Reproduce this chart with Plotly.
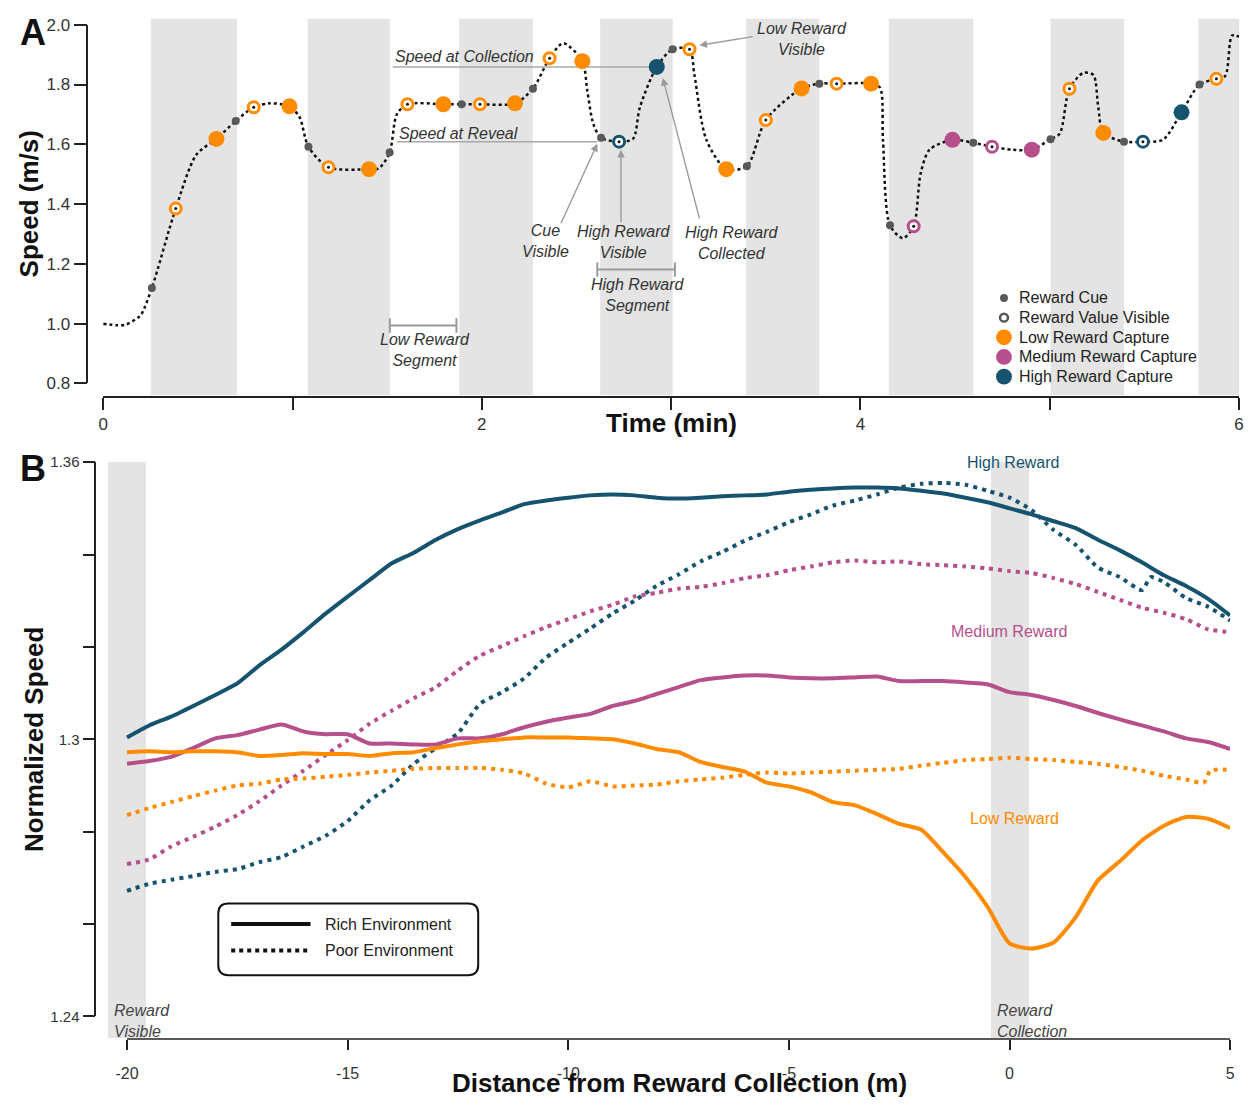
import plotly.graph_objects as go

W, H = 1255, 1111
def px(x): return x / W
def py(y): return 1 - y / H

FONT = "Liberation Sans, Arial, Helvetica, sans-serif"
ORANGE = "#FF8C00"
PURPLE = "#B5508C"
BLUE = "#16536F"
CUE_GRAY = "#595959"
BAND = "#e4e4e4"
TXT = "#222222"

# ---------------- Panel A data ----------------
trace_t = [0.00, 0.07, 0.12, 0.19, 0.205, 0.257, 0.383, 0.493, 0.598, 0.70, 0.795, 0.88, 0.984, 1.037,
           1.084, 1.19, 1.404, 1.457, 1.513, 1.551, 1.607, 1.797, 1.893, 1.99, 2.175, 2.27, 2.358, 2.43,
           2.531, 2.557, 2.589, 2.63, 2.725, 2.798, 2.835, 2.924, 3.008, 3.097, 3.123, 3.186, 3.291,
           3.40, 3.50, 3.689, 3.783, 3.874, 4.056, 4.103, 4.119, 4.156, 4.224, 4.281, 4.318, 4.365,
           4.486, 4.596, 4.695, 4.80, 4.905, 5.004, 5.052, 5.104, 5.177, 5.23, 5.256, 5.283, 5.392,
           5.492, 5.597, 5.696, 5.791, 5.88, 5.927, 5.963, 6.0]
trace_speed = [1.000, 0.995, 0.997, 1.023, 1.035, 1.119, 1.385, 1.566, 1.618, 1.678, 1.724, 1.737, 1.727, 1.691,
               1.592, 1.523, 1.517, 1.520, 1.573, 1.700, 1.734, 1.734, 1.734, 1.734, 1.737, 1.786, 1.888, 1.938,
               1.878, 1.780, 1.668, 1.622, 1.609, 1.618, 1.724, 1.859, 1.918, 1.918, 1.832, 1.615, 1.517,
               1.527, 1.681, 1.787, 1.803, 1.803, 1.803, 1.790, 1.615, 1.329, 1.286, 1.326, 1.503, 1.582,
               1.615, 1.605, 1.592, 1.582, 1.582, 1.617, 1.635, 1.786, 1.839, 1.832, 1.724, 1.638, 1.609,
               1.609, 1.615, 1.707, 1.800, 1.819, 1.829, 1.964, 1.960]

cue_t = [0.257, 0.70, 1.084, 1.513, 1.893, 2.27, 2.63, 3.008, 3.40, 3.783, 4.156, 4.596, 5.004, 5.392, 5.791]
cue_speed = [1.119, 1.678, 1.592, 1.573, 1.734, 1.786, 1.622, 1.918, 1.527, 1.803, 1.329, 1.605, 1.617, 1.609, 1.800]

vis_low_t = [0.383, 0.795, 1.19, 1.607, 1.99, 2.358, 3.097, 3.50, 3.874, 5.104, 5.88]
vis_low_speed = [1.385, 1.724, 1.523, 1.734, 1.734, 1.888, 1.918, 1.681, 1.803, 1.786, 1.819]
vis_med_t = [4.281, 4.695]
vis_med_speed = [1.326, 1.592]
vis_high_t = [2.725, 5.492]
vis_high_speed = [1.609, 1.609]

cap_low_t = [0.598, 0.984, 1.404, 1.797, 2.175, 2.531, 3.291, 3.689, 4.056, 5.283]
cap_low_speed = [1.618, 1.727, 1.517, 1.734, 1.737, 1.878, 1.517, 1.787, 1.803, 1.638]
cap_med_t = [4.486, 4.905]
cap_med_speed = [1.615, 1.582]
cap_high_t = [2.924, 5.696]
cap_high_speed = [1.859, 1.707]

bands_a_start = [0.252, 1.080, 1.881, 2.625, 3.396, 4.150, 5.004, 5.785]
bands_a_end = [0.707, 1.514, 2.269, 3.008, 3.783, 4.596, 5.392, 6.005]

time_ticks = [0, 1, 2, 3, 4, 5, 6]
time_ticktext = ["0", "", "2", "", "4", "", "6"]
speed_ticks = [0.8, 1.0, 1.2, 1.4, 1.6, 1.8, 2.0]
speed_ticktext = ["0.8", "1.0", "1.2", "1.4", "1.6", "1.8", "2.0"]

legend_a_labels = ["Reward Cue", "Reward Value Visible", "Low Reward Capture",
                   "Medium Reward Capture", "High Reward Capture"]

# ---------------- Panel B data ----------------
dist = [-20 + 0.5 * i for i in range(51)]

rich_high = [1.3004, 1.3030, 1.3049, 1.3072, 1.3096, 1.3121, 1.3160, 1.3194, 1.3232, 1.3272, 1.3309,
             1.3345, 1.3381, 1.3404, 1.3432, 1.3455, 1.3474, 1.3491, 1.3509, 1.3517, 1.3523,
             1.3528, 1.3530, 1.3528, 1.3523, 1.3521, 1.3523, 1.3526, 1.3528, 1.3530, 1.3536,
             1.3540, 1.3543, 1.3545, 1.3545, 1.3543, 1.3538, 1.3532, 1.3523, 1.3513, 1.3500,
             1.3487, 1.3472, 1.3457, 1.3432, 1.3409, 1.3383, 1.3355, 1.3332, 1.3304, 1.3268]

poor_high_x = dist[:47] + [3.2, 3.5, 4.0, 4.5, 5.0]
poor_high = [1.2672, 1.2687, 1.2696, 1.2704, 1.2713, 1.2719, 1.2734, 1.2745, 1.2768, 1.2791, 1.2823,
             1.2868, 1.2900, 1.2947, 1.2981, 1.3013, 1.3077, 1.3102, 1.3132, 1.3177, 1.3209,
             1.3240, 1.3272, 1.3300, 1.3332, 1.3357, 1.3385, 1.3406, 1.3430, 1.3449, 1.3470,
             1.3487, 1.3506, 1.3517, 1.3530, 1.3545, 1.3553, 1.3555, 1.3551, 1.3538, 1.3523,
             1.3496, 1.3453, 1.3421, 1.3372, 1.3351, 1.3323, 1.3351, 1.3340, 1.3306, 1.3287, 1.3257]

rich_med = [1.2947, 1.2953, 1.2962, 1.2981, 1.3002, 1.3009, 1.3021, 1.3032, 1.3017, 1.3011, 1.3011,
            1.2991, 1.2991, 1.2989, 1.2989, 1.3002, 1.3002, 1.3011, 1.3026, 1.3038, 1.3047,
            1.3055, 1.3072, 1.3083, 1.3098, 1.3113, 1.3128, 1.3134, 1.3138, 1.3138, 1.3134,
            1.3132, 1.3132, 1.3134, 1.3136, 1.3126, 1.3126, 1.3126, 1.3123, 1.3119, 1.3102,
            1.3096, 1.3085, 1.3072, 1.3057, 1.3043, 1.3030, 1.3017, 1.3002, 1.2994, 1.2979]

poor_med = [1.2730, 1.2740, 1.2768, 1.2789, 1.2811, 1.2836, 1.2866, 1.2900, 1.2932, 1.2966, 1.2998,
            1.3034, 1.3062, 1.3089, 1.3113, 1.3149, 1.3181, 1.3202, 1.3223, 1.3243, 1.3260,
            1.3277, 1.3291, 1.3309, 1.3317, 1.3326, 1.3330, 1.3338, 1.3349, 1.3355, 1.3366,
            1.3374, 1.3383, 1.3387, 1.3383, 1.3385, 1.3379, 1.3377, 1.3374, 1.3370, 1.3364,
            1.3360, 1.3349, 1.3336, 1.3319, 1.3302, 1.3285, 1.3274, 1.3260, 1.3238, 1.3232]

rich_low = [1.2972, 1.2974, 1.2972, 1.2974, 1.2974, 1.2972, 1.2964, 1.2966, 1.2970, 1.2968, 1.2968,
            1.2964, 1.2970, 1.2972, 1.2981, 1.2989, 1.2996, 1.3000, 1.3004, 1.3004, 1.3004,
            1.3002, 1.3000, 1.2991, 1.2979, 1.2972, 1.2951, 1.2940, 1.2930, 1.2906, 1.2898,
            1.2885, 1.2864, 1.2857, 1.2838, 1.2817, 1.2804, 1.2755, 1.2702, 1.2638, 1.2558,
            1.2547, 1.2560, 1.2615, 1.2694, 1.2736, 1.2781, 1.2813, 1.2832, 1.2828, 1.2808]

poor_low_x = dist[:49] + [4.4, 4.55, 5.0]
poor_low = [1.2836, 1.2851, 1.2864, 1.2877, 1.2889, 1.2900, 1.2904, 1.2913, 1.2915, 1.2919, 1.2923,
            1.2928, 1.2932, 1.2936, 1.2938, 1.2938, 1.2938, 1.2934, 1.2926, 1.2904, 1.2896,
            1.2909, 1.2898, 1.2900, 1.2902, 1.2909, 1.2913, 1.2917, 1.2923, 1.2928, 1.2926,
            1.2928, 1.2930, 1.2932, 1.2934, 1.2936, 1.2943, 1.2949, 1.2955, 1.2957, 1.2960,
            1.2957, 1.2955, 1.2951, 1.2947, 1.2940, 1.2932, 1.2921, 1.2913, 1.2906, 1.2932, 1.2934]

bands_b_start = [-20.43, -0.42]
bands_b_end = [-19.57, 0.44]

dist_ticks = [-20, -15, -10, -5, 0, 5]
dist_ticktext = ["-20", "-15", "-10", "-5", "0", "5"]
norm_ticks = [1.24, 1.26, 1.28, 1.30, 1.32, 1.34, 1.36]
norm_ticktext = ["1.24", "", "", "1.3", "", "", "1.36"]

fig = go.Figure()

# ---------------- Panel A traces ----------------
fig.add_trace(go.Scatter(x=trace_t, y=trace_speed, mode="lines", showlegend=False, hoverinfo="skip",
                         line=dict(color="#111111", width=2.5, dash="dot", shape="spline", smoothing=0.8),
                         xaxis="x", yaxis="y"))
fig.add_trace(go.Scatter(x=cue_t, y=cue_speed, mode="markers", showlegend=False,
                         marker=dict(size=8, color=CUE_GRAY), xaxis="x", yaxis="y"))
for tt, ss, col in [(vis_low_t, vis_low_speed, ORANGE), (vis_med_t, vis_med_speed, PURPLE),
                    (vis_high_t, vis_high_speed, BLUE)]:
    fig.add_trace(go.Scatter(x=tt, y=ss, mode="markers", showlegend=False,
                             marker=dict(size=11, color="white", line=dict(color=col, width=3)),
                             xaxis="x", yaxis="y"))
    fig.add_trace(go.Scatter(x=tt, y=ss, mode="markers", showlegend=False,
                             marker=dict(size=3, color="#111111"), xaxis="x", yaxis="y"))
for tt, ss, col in [(cap_low_t, cap_low_speed, ORANGE), (cap_med_t, cap_med_speed, PURPLE),
                    (cap_high_t, cap_high_speed, BLUE)]:
    fig.add_trace(go.Scatter(x=tt, y=ss, mode="markers", showlegend=False,
                             marker=dict(size=16, color=col), xaxis="x", yaxis="y"))

# ---------------- Panel B traces ----------------
series_b = [
    (dist, rich_high, BLUE, "solid"), (poor_high_x, poor_high, BLUE, "4px,5px"),
    (dist, rich_med, PURPLE, "solid"), (dist, poor_med, PURPLE, "4px,5px"),
    (dist, rich_low, ORANGE, "solid"), (poor_low_x, poor_low, ORANGE, "4px,5px"),
]
for xx, yy, col, dash in series_b:
    fig.add_trace(go.Scatter(x=xx, y=yy, mode="lines", showlegend=False, hoverinfo="skip",
                             line=dict(color=col, width=4, dash=dash, shape="spline", smoothing=0.6),
                             xaxis="x2", yaxis="y2"))

# ---------------- shapes ----------------
shapes = []
for a, b in zip(bands_a_start, bands_a_end):
    shapes.append(dict(type="rect", xref="x", yref="paper", x0=a, x1=b, y0=py(393), y1=py(10),
                       fillcolor=BAND, line=dict(width=0), layer="below"))
for a, b in zip(bands_b_start, bands_b_end):
    shapes.append(dict(type="rect", xref="x2", yref="paper", x0=a, x1=b, y0=py(1047), y1=py(461),
                       fillcolor=BAND, line=dict(width=0), layer="below"))
# panel B x axis line
shapes.append(dict(type="line", xref="x2", yref="paper", x0=dist_ticks[0], x1=dist_ticks[-1],
                   y0=py(1048), y1=py(1048), line=dict(color=TXT, width=1.5)))
# reference lines panel A
shapes.append(dict(type="line", xref="x", yref="y", x0=1.53, x1=cap_high_t[0], y0=cap_high_speed[0],
                   y1=cap_high_speed[0], line=dict(color="#a8a8a8", width=1.5), layer="below"))
shapes.append(dict(type="line", xref="x", yref="y", x0=1.551, x1=2.61, y0=vis_high_speed[0],
                   y1=vis_high_speed[0], line=dict(color="#a8a8a8", width=1.5), layer="below"))
# segment brackets
for x0, x1, yc in [(2.61, 3.02, 1.181), (1.514, 1.866, 0.994)]:
    shapes.append(dict(type="line", xref="x", yref="y", x0=x0, x1=x1, y0=yc, y1=yc,
                       line=dict(color="#9a9a9a", width=2)))
    for xe in (x0, x1):
        shapes.append(dict(type="line", xref="x", yref="y", x0=xe, x1=xe, y0=yc - 0.024, y1=yc + 0.024,
                           line=dict(color="#9a9a9a", width=2)))

# Panel A legend symbols (drawn manually)
leg_x, leg_y0, leg_dy = 1007, 294, 20
leg_styles = [
    (4, CUE_GRAY, CUE_GRAY, 0),
    (4, "white", CUE_GRAY, 2.5),
    (8, ORANGE, ORANGE, 0),
    (8, PURPLE, PURPLE, 0),
    (8, BLUE, BLUE, 0),
]
for i, (r, fillc, linec, lw) in enumerate(leg_styles):
    cy = leg_y0 + i * leg_dy
    shapes.append(dict(type="circle", xref="paper", yref="paper",
                       x0=px(leg_x - r), x1=px(leg_x + r), y0=py(cy + r), y1=py(cy - r),
                       fillcolor=fillc, line=dict(color=linec, width=lw)))

# Legend box panel B (rounded)
lx0, lx1, ly0, ly1, r = 215, 477, 910, 983, 10
path = (f"M{px(lx0 + r)},{py(ly0)} L{px(lx1 - r)},{py(ly0)} Q{px(lx1)},{py(ly0)} {px(lx1)},{py(ly0 + r)} "
        f"L{px(lx1)},{py(ly1 - r)} Q{px(lx1)},{py(ly1)} {px(lx1 - r)},{py(ly1)} "
        f"L{px(lx0 + r)},{py(ly1)} Q{px(lx0)},{py(ly1)} {px(lx0)},{py(ly1 - r)} "
        f"L{px(lx0)},{py(ly0 + r)} Q{px(lx0)},{py(ly0)} {px(lx0 + r)},{py(ly0)} Z")
shapes.append(dict(type="path", xref="paper", yref="paper", path=path,
                   line=dict(color="#111111", width=2), fillcolor="white"))
shapes.append(dict(type="line", xref="paper", yref="paper", x0=px(228), x1=px(308), y0=py(931), y1=py(931),
                   line=dict(color="#111111", width=4)))
shapes.append(dict(type="line", xref="paper", yref="paper", x0=px(228), x1=px(308), y0=py(958), y1=py(958),
                   line=dict(color="#111111", width=4, dash="dot")))

# ---------------- annotations ----------------
anns = []
def ann(x, y, text, size=16, color=TXT, xanchor="center", yanchor="middle", angle=0):
    anns.append(dict(x=px(x), y=py(y), xref="paper", yref="paper", text=text, showarrow=False,
                     font=dict(size=size, color=color, family=FONT), xanchor=xanchor, yanchor=yanchor,
                     textangle=angle, align="left" if xanchor == "left" else "center"))

ann(28, 24, "<b>A</b>", size=36, color="#111")
ann(28, 467, "<b>B</b>", size=36, color="#111")
ann(24, 198, "<b>Speed (m/s)</b>", size=26, color="#111", angle=-90)
ann(672, 421, "<b>Time (min)</b>", size=26, color="#111")
ann(30, 743, "<b>Normalized Speed</b>", size=26, color="#111", angle=-90)
ann(680, 1093, "<b>Distance from Reward Collection (m)</b>", size=26, color="#111")

ann(391, 48, "<i>Speed at Collection</i>", color="#333", xanchor="left")
ann(395, 127, "<i>Speed at Reveal</i>", color="#333", xanchor="left")
ann(545, 236, "<i>Cue<br>Visible</i>", color="#333")
ann(624, 237, "<i>High Reward<br>Visible</i>", color="#333")
ann(733, 238, "<i>High Reward<br>Collected</i>", color="#333")
ann(803, 31, "<i>Low Reward<br>Visible</i>", color="#333")
ann(638, 291, "<i>High Reward<br>Segment</i>", color="#333")
ann(423, 347, "<i>Low Reward<br>Segment</i>", color="#333")

for i, lab in enumerate(legend_a_labels):
    ann(1020, leg_y0 + i * leg_dy, lab, color=TXT, xanchor="left")

ann(1016, 461, "High Reward", color=BLUE)
ann(1012, 633, "Medium Reward", color=PURPLE)
ann(1018, 824, "Low Reward", color=ORANGE)
ann(108, 1030, "<i>Reward<br>Visible</i>", color="#444", xanchor="left")
ann(998, 1030, "<i>Reward<br>Collection</i>", color="#444", xanchor="left")
ann(321, 931, "Rich Environment", color=TXT, xanchor="left")
ann(321, 958, "Poor Environment", color=TXT, xanchor="left")

# arrows (head at data point, tail offset in pixels)
for hx, hy, dx, dy in [(2.61, 1.602, -37, 81), (2.735, 1.582, 0, 74),
                       (2.956, 1.822, 37, 142), (3.149, 1.931, 55, -9)]:
    anns.append(dict(x=hx, y=hy, xref="x", yref="y", ax=dx, ay=dy, text="", showarrow=True,
                     arrowhead=2, arrowsize=1.1, arrowwidth=1.4, arrowcolor="#9a9a9a"))

tickfont = dict(size=17, color="#333", family=FONT)
fig.update_layout(
    width=W, height=H, margin=dict(l=0, r=0, t=0, b=0),
    paper_bgcolor="white", plot_bgcolor="rgba(0,0,0,0)",
    font=dict(family=FONT, color=TXT),
    showlegend=False,
    xaxis=dict(domain=[px(99), px(1244)], range=[0, 6], anchor="free", position=py(395),
               tickvals=time_ticks, ticktext=time_ticktext, ticks="outside", ticklen=12, tickwidth=1.5,
               tickcolor=TXT, showline=True, linecolor=TXT, linewidth=1.5, showgrid=False, zeroline=False,
               tickfont=tickfont),
    yaxis=dict(domain=[py(381), py(16)], range=[0.8, 2.0], anchor="free", position=px(83),
               tickvals=speed_ticks, ticktext=speed_ticktext, ticks="outside", ticklen=13, tickwidth=1.5,
               tickcolor=TXT, showline=True, linecolor=TXT, linewidth=1.5, showgrid=False, zeroline=False,
               tickfont=tickfont),
    xaxis2=dict(domain=[px(92), px(1235)], range=[-20 - (123 - 92) / ((1235 - 123) / 25), 5],
                anchor="free", position=py(1048),
                tickvals=dist_ticks, ticktext=dist_ticktext, ticks="outside", ticklen=10, tickwidth=1.5,
                tickcolor=TXT, showline=False, showgrid=False, zeroline=False,
                tickfont=dict(size=16, color="#333", family=FONT), ticklabelstandoff=10),
    yaxis2=dict(domain=[py(1025), py(461)], range=[1.24, 1.36], anchor="x2",
                tickvals=norm_ticks, ticktext=norm_ticktext, ticks="outside", ticklen=12, tickwidth=1.5,
                tickcolor=TXT, showline=True, linecolor=TXT, linewidth=1.5, showgrid=False, zeroline=False,
                tickfont=dict(size=15, color="#333", family=FONT)),
    shapes=shapes,
    annotations=anns,
)

fig.write_html("out.html")
